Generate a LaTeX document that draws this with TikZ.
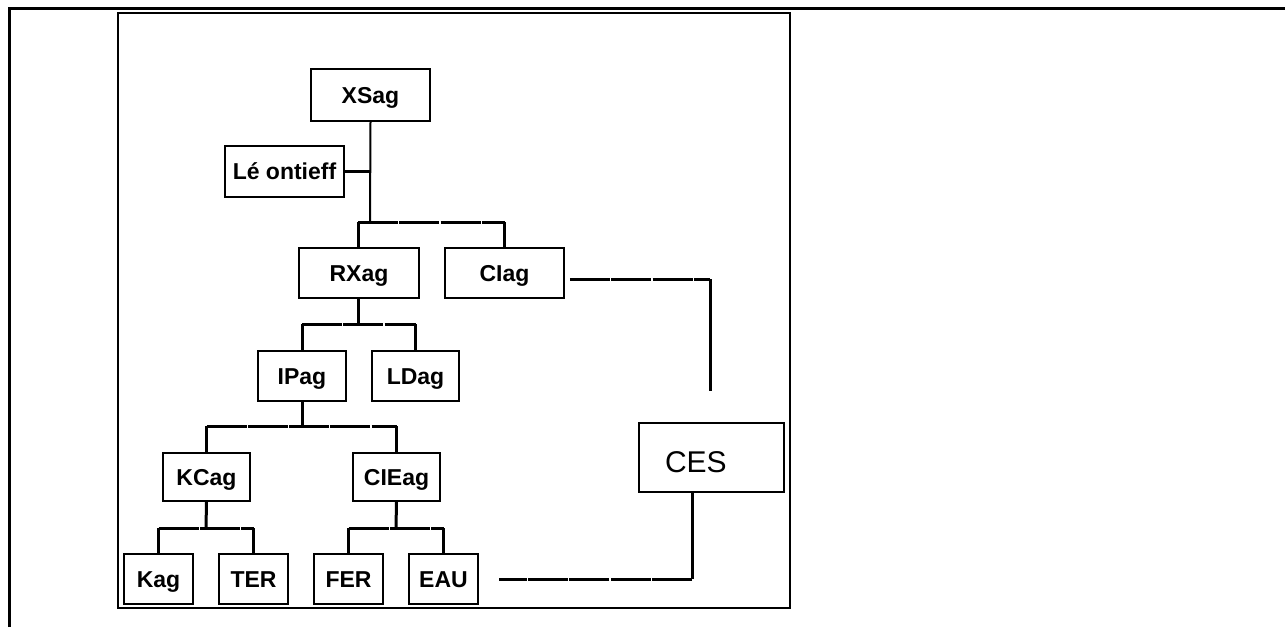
\documentclass[tikz,border=0pt]{standalone}
\usepackage{fontspec}
\setmainfont{Liberation Sans}
\begin{document}
\begin{tikzpicture}[x=1pt,y=-1pt,
  box/.style={draw, line width=1.8pt, rectangle, inner sep=0pt, text height=16pt, text depth=0pt,
    font=\fontsize{23}{26}\selectfont\bfseries},
  bus/.style={line width=3pt, dash pattern=on 40pt off 1.3pt},
  drop/.style={line width=3pt},
  thinline/.style={line width=2pt}]
\useasboundingbox (0,0) rectangle (1285,627);
% frames
\draw[line width=3pt] (9,627) -- (9,8) -- (1285,8);
\draw[line width=2.5pt] (118,13) rectangle (790,608);
% nodes
\node[box, minimum width=119, minimum height=52] (XS) at (370.5,95) {XSag};
\node[box, minimum width=119, minimum height=51] (LE) at (284.5,171.5) {Lé ontieff};
\node[box, minimum width=120, minimum height=50] (RX) at (359,273) {RXag};
\node[box, minimum width=119, minimum height=50] (CI) at (504.5,273) {CIag};
\node[box, minimum width=88, minimum height=50] (IP) at (302,376) {IPag};
\node[box, minimum width=87, minimum height=50] (LD) at (415.5,376) {LDag};
\node[box, minimum width=87, minimum height=48] (KC) at (206.5,477) {KCag};
\node[box, minimum width=87, minimum height=48] (CE) at (396.5,477) {CIEag};
\node[box, minimum width=69, minimum height=50] (KA) at (158.5,579) {Kag};
\node[box, minimum width=69, minimum height=50] (TE) at (253.5,579) {TER};
\node[box, minimum width=69, minimum height=50] (FE) at (348.5,579) {FER};
\node[box, minimum width=69, minimum height=50] (EA) at (443.5,579) {EAU};
\node[draw, line width=1.8pt, rectangle, inner ysep=0pt, inner xsep=26pt, text width=93, align=left,
  text height=29pt, text depth=0pt,
  minimum height=69, font=\fontsize{30}{32}\selectfont] (CES) at (711.5,457.5) {CES};
% bus coordinates
\coordinate (b1) at (370,222);
\coordinate (b2) at (358,324);
\coordinate (b3) at (302,426);
\coordinate (b4) at (206,528);
\coordinate (b5) at (396,528);
% XSag tree
\draw[thinline] (XS.south) -- (b1);
\draw[drop] (LE.east) -- (LE.east -| b1);
\draw[bus] ([xshift=-1]RX.north |- b1) -- (CI.north |- b1);
\draw[drop] ([xshift=-1]RX.north |- b1) -- ([xshift=-1]RX.north);
\draw[drop] (CI.north |- b1) -- (CI.north);
% RXag
\draw[drop] ([xshift=-1]RX.south) -- (b2);
\draw[bus] (IP.north |- b2) -- (LD.north |- b2);
\draw[drop] (IP.north |- b2) -- (IP.north);
\draw[drop] (LD.north |- b2) -- (LD.north);
% IPag
\draw[drop] (IP.south) -- (b3);
\draw[bus] (KC.north |- b3) -- (CE.north |- b3);
\draw[drop] (KC.north |- b3) -- (KC.north);
\draw[drop] (CE.north |- b3) -- (CE.north);
% KCag
\draw[drop] (KC.south) -- (b4);
\draw[bus] (KA.north |- b4) -- (TE.north |- b4);
\draw[drop] (KA.north |- b4) -- (KA.north);
\draw[drop] (TE.north |- b4) -- (TE.north);
% CIEag
\draw[drop] (CE.south) -- (b5);
\draw[bus] (FE.north |- b5) -- (EA.north |- b5);
\draw[drop] (FE.north |- b5) -- (FE.north);
\draw[drop] (EA.north |- b5) -- (EA.north);
% right connectors
\coordinate (c0) at ([shift={(5,6)}]CI.east);
\coordinate (c1) at (710,391);
\coordinate (c3) at ([xshift=20]EA.east);
\coordinate (c4) at ([xshift=-19.5]CES.south);
\draw[bus] (c0) -- (c0 -| c1);
\draw[drop] (c0 -| c1) -- (c1);
\draw[drop] (c4) -- (c4 |- c3);
\draw[bus] (c4 |- c3) -- (c3);
\end{tikzpicture}
\end{document}
